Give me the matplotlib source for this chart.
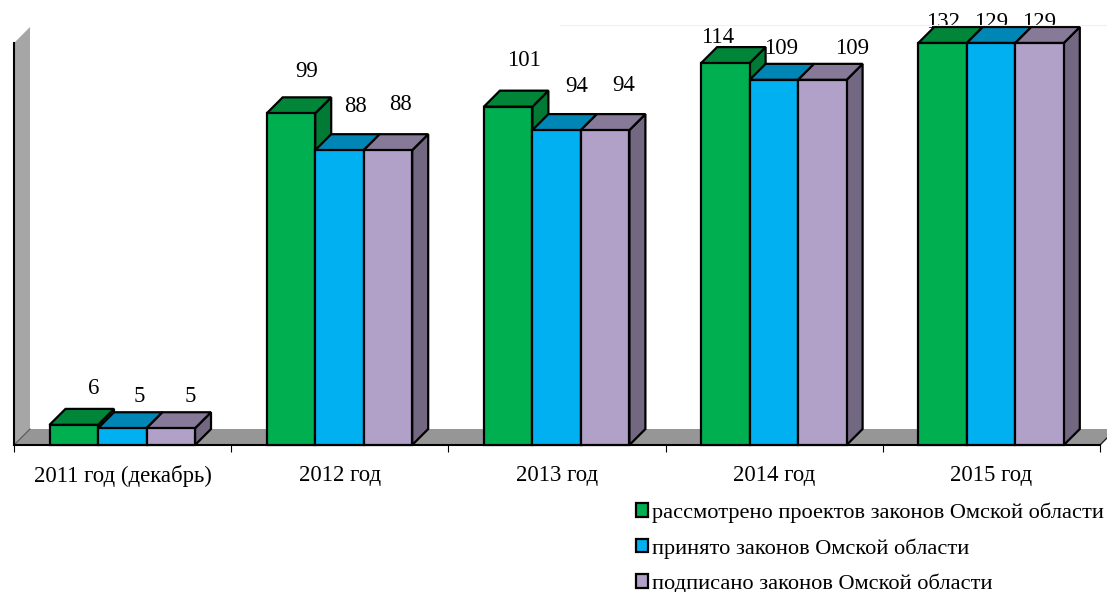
import matplotlib
matplotlib.use("Agg")
import matplotlib.pyplot as plt
from matplotlib.patches import Patch, Polygon
from matplotlib.lines import Line2D

plt.rcParams['font.family'] = ['Liberation Serif', 'DejaVu Serif']

categories = ["2011 год (декабрь)", "2012 год", "2013 год", "2014 год", "2015 год"]
series_names = ["рассмотрено проектов законов Омской области",
                "принято законов Омской области",
                "подписано законов Омской области"]
considered = [6, 99, 101, 114, 132]
adopted = [5, 88, 94, 109, 129]
signed = [5, 88, 94, 109, 129]

# style: front, top, side colours
front_colors = ["#00B050", "#00B0F0", "#B1A0C7"]
top_colors = ["#008539", "#0086B5", "#877998"]
side_colors = ["#007A35", "#007FAD", "#736881"]

# label offsets in pixels from the top centre of each bar's front face
label_offsets = [
    [(19.5, 36), (16, 42), (16, 46), (-8, 26), (0, 21)],
    [(17, 32), (16.5, 44), (20, 44), (7, 31), (0, 21)],
    [(19.5, 32), (13, 46), (18.5, 45), (29.5, 31), (-1, 21)],
]

W, H = 1107, 592
AX_L, AX_R, AX_T, AX_B = 14, 1100, 43, 445
Y_MAX = 120  # axis maximum: taller bars are cut off here, as in the reference
FS = 16.4

fig = plt.figure(figsize=(W / 100, H / 100), dpi=100, facecolor="white")
ax = fig.add_axes([AX_L / W, (H - AX_B) / H, (AX_R - AX_L) / W, (AX_B - AX_T) / H])
ax.set_xlim(0, len(categories))
ax.set_ylim(0, Y_MAX)
ax.patch.set_visible(False)

px_x = len(categories) / (AX_R - AX_L)
px_y = Y_MAX / (AX_B - AX_T)
dx, dy = 16 * px_x, 16 * px_y
bar_w = 48.5 * px_x
group_pad = 35.5 * px_x
EDGE = 1.6

# walls
ax.add_patch(Polygon([(0, 0), (dx, dy), (dx, Y_MAX + dy), (0, Y_MAX)],
                     closed=True, fc="#A6A6A6", ec="none", clip_on=False, zorder=1))
ax.add_patch(Polygon([(0, 0), (dx, dy), (len(categories) + dx, dy), (len(categories), 0)],
                     closed=True, fc="#969696", ec="none", clip_on=False, zorder=1))
ax.plot([0, dx], [0, dy], color="#555555", lw=0.8, clip_on=False, zorder=1.5)
ax.plot([len(categories), len(categories) + dx], [0, dy], color="#222222", lw=1.0,
        clip_on=False, zorder=1.5)
fig.add_artist(Line2D([560 / W, 1], [1 - 25 / H] * 2, color="#F0F0F0", lw=0.8))

z = 3
for s, vals in enumerate([considered, adopted, signed]):
    for g, v in enumerate(vals):
        x0 = g + group_pad + s * bar_w
        top = min(v, Y_MAX)
        x1 = x0 + bar_w
        ax.add_patch(Polygon([(x1, 0), (x1 + dx, dy), (x1 + dx, top + dy), (x1, top)],
                             closed=True, fc=side_colors[s], ec="black", lw=EDGE,
                             clip_on=False, zorder=z))
        ax.add_patch(Polygon([(x0, top), (x0 + dx, top + dy), (x1 + dx, top + dy), (x1, top)],
                             closed=True, fc=top_colors[s], ec="black", lw=EDGE,
                             clip_on=False, zorder=z))
        ax.bar(x0, top, width=bar_w, align="edge", color=front_colors[s], edgecolor="black",
               linewidth=EDGE, clip_on=False, zorder=z + 0.5)
        ax.annotate(str(v), xy=(x0 + bar_w / 2, top), xytext=label_offsets[s][g],
                    textcoords="offset pixels", ha="center", va="center",
                    fontsize=FS, color="black", zorder=50, annotation_clip=False)
        z += 1

for sp in ("top", "right"):
    ax.spines[sp].set_visible(False)
for sp in ("left", "bottom"):
    ax.spines[sp].set_linewidth(1.5)
    ax.spines[sp].set_zorder(2)
ax.set_yticks([])
ax.set_xticks(range(len(categories) + 1))
ax.set_xticklabels([])
ax.set_xticks([i + 0.5 for i in range(len(categories))], minor=True)
ax.set_xticklabels(categories, minor=True, fontsize=FS)
ax.tick_params(axis="x", which="major", length=5, width=0.8, direction="out")
ax.tick_params(axis="x", which="minor", length=0, pad=14.5)

handles = [Patch(fc=c, ec="black", lw=1.6) for c in front_colors]
fig.legend(handles, series_names, loc="upper left",
           bbox_to_anchor=(636 / W, 1 - 502.5 / H), frameon=False, fontsize=16.15,
           handlelength=0.54, handleheight=0.54, handletextpad=0.18,
           labelspacing=0.67, borderpad=0, borderaxespad=0)

fig.savefig("out.png", dpi=100, facecolor="white")
